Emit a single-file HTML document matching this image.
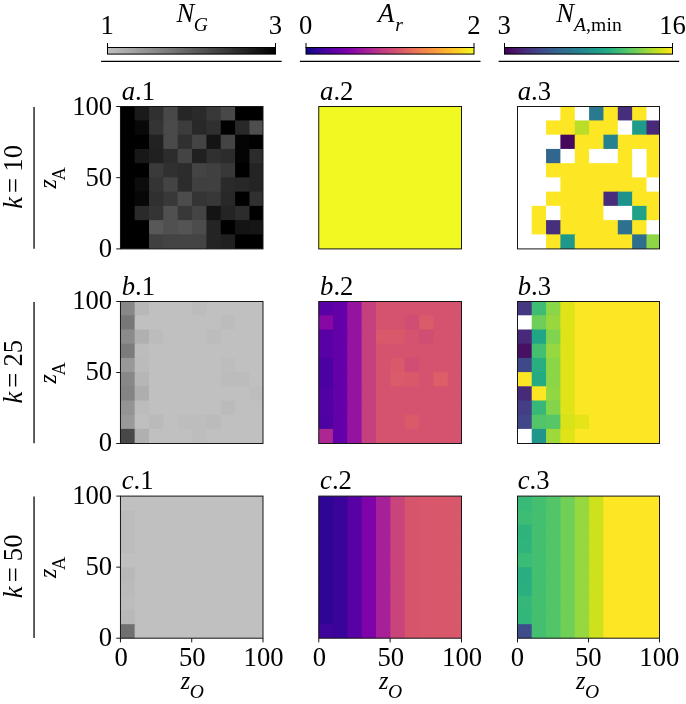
<!DOCTYPE html>
<html><head><meta charset="utf-8"><title>figure</title>
<style>
html,body{margin:0;padding:0;background:#fff;}
body{width:686px;height:704px;overflow:hidden;}
svg{display:block;will-change:transform;}
text{font-family:"Liberation Serif","Times New Roman",serif;fill:#000;}
.i{font-style:italic;}
</style></head><body>
<svg width="686" height="704" viewBox="0 0 686 704">
<defs>
<linearGradient id="gG" x1="0" x2="1" y1="0" y2="0"><stop offset="0" stop-color="#c0c0c0"/><stop offset="1" stop-color="#000000"/></linearGradient><linearGradient id="gP" x1="0" x2="1" y1="0" y2="0"><stop offset="0.00" stop-color="#0d0887"/><stop offset="0.05" stop-color="#2a0593"/><stop offset="0.10" stop-color="#41049d"/><stop offset="0.15" stop-color="#5601a4"/><stop offset="0.20" stop-color="#6a00a8"/><stop offset="0.25" stop-color="#7e03a8"/><stop offset="0.30" stop-color="#8f0da4"/><stop offset="0.35" stop-color="#a11b9b"/><stop offset="0.40" stop-color="#b12a90"/><stop offset="0.45" stop-color="#bf3984"/><stop offset="0.50" stop-color="#cc4778"/><stop offset="0.55" stop-color="#d6556d"/><stop offset="0.60" stop-color="#e16462"/><stop offset="0.65" stop-color="#ea7457"/><stop offset="0.70" stop-color="#f2844b"/><stop offset="0.75" stop-color="#f89540"/><stop offset="0.80" stop-color="#fca636"/><stop offset="0.85" stop-color="#feba2c"/><stop offset="0.90" stop-color="#fcce25"/><stop offset="0.95" stop-color="#f7e425"/><stop offset="1.00" stop-color="#f0f921"/></linearGradient><linearGradient id="gV" x1="0" x2="1" y1="0" y2="0"><stop offset="0.00" stop-color="#440154"/><stop offset="0.05" stop-color="#471365"/><stop offset="0.10" stop-color="#482475"/><stop offset="0.15" stop-color="#463480"/><stop offset="0.20" stop-color="#414487"/><stop offset="0.25" stop-color="#3b528b"/><stop offset="0.30" stop-color="#355f8d"/><stop offset="0.35" stop-color="#2f6c8e"/><stop offset="0.40" stop-color="#2a788e"/><stop offset="0.45" stop-color="#25848e"/><stop offset="0.50" stop-color="#21918c"/><stop offset="0.55" stop-color="#1e9c89"/><stop offset="0.60" stop-color="#22a884"/><stop offset="0.65" stop-color="#2fb47c"/><stop offset="0.70" stop-color="#44bf70"/><stop offset="0.75" stop-color="#5ec962"/><stop offset="0.80" stop-color="#7ad151"/><stop offset="0.85" stop-color="#9bd93c"/><stop offset="0.90" stop-color="#bddf26"/><stop offset="0.95" stop-color="#dfe318"/><stop offset="1.00" stop-color="#fde725"/></linearGradient></defs>
<rect x="107.50" y="47.5" width="168.00" height="6.6" fill="url(#gG)" stroke="#000" stroke-width="1"/><line x1="107.50" x2="107.50" y1="43" y2="48" stroke="#000" stroke-width="1"/><line x1="275.50" x2="275.50" y1="43" y2="48" stroke="#000" stroke-width="1"/><line x1="101.10" x2="281.70" y1="61.4" y2="61.4" stroke="#000" stroke-width="1.1"/>
<rect x="306.00" y="47.5" width="168.00" height="6.6" fill="url(#gP)" stroke="#000" stroke-width="1"/><line x1="306.00" x2="306.00" y1="43" y2="48" stroke="#000" stroke-width="1"/><line x1="474.00" x2="474.00" y1="43" y2="48" stroke="#000" stroke-width="1"/><line x1="299.90" x2="480.50" y1="61.4" y2="61.4" stroke="#000" stroke-width="1.1"/>
<rect x="504.50" y="47.5" width="168.00" height="6.6" fill="url(#gV)" stroke="#000" stroke-width="1"/><line x1="504.50" x2="504.50" y1="43" y2="48" stroke="#000" stroke-width="1"/><line x1="672.50" x2="672.50" y1="43" y2="48" stroke="#000" stroke-width="1"/><line x1="498.60" x2="679.20" y1="61.4" y2="61.4" stroke="#000" stroke-width="1.1"/>
<text x="107.20" y="33.7" font-size="26.67" text-anchor="middle">1</text><text x="275.50" y="33.7" font-size="26.67" text-anchor="middle">3</text><text x="305.70" y="33.7" font-size="26.67" text-anchor="middle">0</text><text x="474.00" y="33.7" font-size="26.67" text-anchor="middle">2</text><text x="504.20" y="33.7" font-size="26.67" text-anchor="middle">3</text><text x="672.50" y="33.7" font-size="26.67" text-anchor="middle">16</text><text x="176.5" y="22" font-size="26.67"><tspan class="i">N</tspan><tspan class="i" font-size="19.6" dx="-0.5" dy="8.9">G</tspan></text><text x="378" y="22" font-size="26.67"><tspan class="i">A</tspan><tspan class="i" font-size="19.6" dx="1" dy="8.7">r</tspan></text><text x="556.2" y="22" font-size="26.67"><tspan class="i">N</tspan><tspan class="i" font-size="19.6" dy="8.7">A</tspan><tspan font-size="19.6" letter-spacing="0.15">,min</tspan></text>
<g><rect x="120.45" y="106.50" width="15.20" height="14.94" fill="#000000"/><rect x="134.65" y="106.50" width="15.35" height="14.94" fill="#1a1a1a"/><rect x="149.00" y="106.50" width="15.35" height="14.94" fill="#303030"/><rect x="163.35" y="106.50" width="15.35" height="14.94" fill="#484848"/><rect x="177.70" y="106.50" width="15.35" height="14.94" fill="#262626"/><rect x="192.05" y="106.50" width="15.35" height="14.94" fill="#2a2a2a"/><rect x="206.40" y="106.50" width="15.35" height="14.94" fill="#383838"/><rect x="220.75" y="106.50" width="15.35" height="14.94" fill="#484848"/><rect x="235.10" y="106.50" width="27.90" height="14.94" fill="#000000"/><rect x="120.45" y="120.44" width="15.20" height="15.24" fill="#000000"/><rect x="134.65" y="120.44" width="15.35" height="15.24" fill="#080808"/><rect x="149.00" y="120.44" width="15.35" height="15.24" fill="#343434"/><rect x="163.35" y="120.44" width="15.35" height="15.24" fill="#4a4a4a"/><rect x="177.70" y="120.44" width="15.35" height="15.24" fill="#3c3c3c"/><rect x="192.05" y="120.44" width="15.35" height="15.24" fill="#282828"/><rect x="206.40" y="120.44" width="15.35" height="15.24" fill="#303030"/><rect x="220.75" y="120.44" width="15.35" height="15.24" fill="#000000"/><rect x="235.10" y="120.44" width="15.35" height="15.24" fill="#282828"/><rect x="249.45" y="120.44" width="13.55" height="15.24" fill="#4e4e4e"/><rect x="120.45" y="134.68" width="29.55" height="15.24" fill="#000000"/><rect x="149.00" y="134.68" width="15.35" height="15.24" fill="#222222"/><rect x="163.35" y="134.68" width="15.35" height="15.24" fill="#4a4a4a"/><rect x="177.70" y="134.68" width="15.35" height="15.24" fill="#303030"/><rect x="192.05" y="134.68" width="15.35" height="15.24" fill="#444444"/><rect x="206.40" y="134.68" width="15.35" height="15.24" fill="#141414"/><rect x="220.75" y="134.68" width="15.35" height="15.24" fill="#444444"/><rect x="235.10" y="134.68" width="15.35" height="15.24" fill="#040404"/><rect x="249.45" y="134.68" width="13.55" height="15.24" fill="#000000"/><rect x="120.45" y="148.92" width="15.20" height="15.24" fill="#000000"/><rect x="134.65" y="148.92" width="15.35" height="15.24" fill="#181818"/><rect x="149.00" y="148.92" width="15.35" height="15.24" fill="#202020"/><rect x="163.35" y="148.92" width="15.35" height="15.24" fill="#2c2c2c"/><rect x="177.70" y="148.92" width="15.35" height="15.24" fill="#444444"/><rect x="192.05" y="148.92" width="15.35" height="15.24" fill="#202020"/><rect x="206.40" y="148.92" width="15.35" height="15.24" fill="#303030"/><rect x="220.75" y="148.92" width="15.35" height="15.24" fill="#2c2c2c"/><rect x="235.10" y="148.92" width="15.35" height="15.24" fill="#040404"/><rect x="249.45" y="148.92" width="13.55" height="15.24" fill="#2c2c2c"/><rect x="120.45" y="163.16" width="29.55" height="15.24" fill="#000000"/><rect x="149.00" y="163.16" width="15.35" height="15.24" fill="#3a3a3a"/><rect x="163.35" y="163.16" width="15.35" height="15.24" fill="#303030"/><rect x="177.70" y="163.16" width="15.35" height="15.24" fill="#2c2c2c"/><rect x="192.05" y="163.16" width="15.35" height="15.24" fill="#444444"/><rect x="206.40" y="163.16" width="15.35" height="15.24" fill="#404040"/><rect x="220.75" y="163.16" width="15.35" height="15.24" fill="#383838"/><rect x="235.10" y="163.16" width="15.35" height="15.24" fill="#000000"/><rect x="249.45" y="163.16" width="13.55" height="15.24" fill="#242424"/><rect x="120.45" y="177.40" width="15.20" height="15.24" fill="#000000"/><rect x="134.65" y="177.40" width="15.35" height="15.24" fill="#0c0c0c"/><rect x="149.00" y="177.40" width="15.35" height="15.24" fill="#343434"/><rect x="163.35" y="177.40" width="15.35" height="15.24" fill="#444444"/><rect x="177.70" y="177.40" width="15.35" height="15.24" fill="#2c2c2c"/><rect x="192.05" y="177.40" width="29.70" height="15.24" fill="#404040"/><rect x="220.75" y="177.40" width="15.35" height="15.24" fill="#2a2a2a"/><rect x="235.10" y="177.40" width="15.35" height="15.24" fill="#282828"/><rect x="249.45" y="177.40" width="13.55" height="15.24" fill="#242424"/><rect x="120.45" y="191.64" width="15.20" height="15.24" fill="#000000"/><rect x="134.65" y="191.64" width="15.35" height="15.24" fill="#070707"/><rect x="149.00" y="191.64" width="15.35" height="15.24" fill="#303030"/><rect x="163.35" y="191.64" width="15.35" height="15.24" fill="#383838"/><rect x="177.70" y="191.64" width="15.35" height="15.24" fill="#4c4c4c"/><rect x="192.05" y="191.64" width="15.35" height="15.24" fill="#343434"/><rect x="206.40" y="191.64" width="15.35" height="15.24" fill="#383838"/><rect x="220.75" y="191.64" width="15.35" height="15.24" fill="#282828"/><rect x="235.10" y="191.64" width="15.35" height="15.24" fill="#000000"/><rect x="249.45" y="191.64" width="13.55" height="15.24" fill="#303030"/><rect x="120.45" y="205.88" width="15.20" height="15.24" fill="#000000"/><rect x="134.65" y="205.88" width="15.35" height="15.24" fill="#2a2a2a"/><rect x="149.00" y="205.88" width="15.35" height="15.24" fill="#343434"/><rect x="163.35" y="205.88" width="15.35" height="15.24" fill="#505050"/><rect x="177.70" y="205.88" width="15.35" height="15.24" fill="#383838"/><rect x="192.05" y="205.88" width="15.35" height="15.24" fill="#444444"/><rect x="206.40" y="205.88" width="15.35" height="15.24" fill="#141414"/><rect x="220.75" y="205.88" width="15.35" height="15.24" fill="#242424"/><rect x="235.10" y="205.88" width="15.35" height="15.24" fill="#2c2c2c"/><rect x="249.45" y="205.88" width="13.55" height="15.24" fill="#000000"/><rect x="120.45" y="220.12" width="29.55" height="15.24" fill="#000000"/><rect x="149.00" y="220.12" width="15.35" height="15.24" fill="#585858"/><rect x="163.35" y="220.12" width="15.35" height="15.24" fill="#505050"/><rect x="177.70" y="220.12" width="15.35" height="15.24" fill="#545454"/><rect x="192.05" y="220.12" width="15.35" height="15.24" fill="#4c4c4c"/><rect x="206.40" y="220.12" width="15.35" height="15.24" fill="#242424"/><rect x="220.75" y="220.12" width="15.35" height="15.24" fill="#000000"/><rect x="235.10" y="220.12" width="15.35" height="15.24" fill="#141414"/><rect x="249.45" y="220.12" width="13.55" height="15.24" fill="#161616"/><rect x="120.45" y="234.36" width="29.55" height="14.54" fill="#000000"/><rect x="149.00" y="234.36" width="15.35" height="14.54" fill="#404040"/><rect x="163.35" y="234.36" width="44.05" height="14.54" fill="#444444"/><rect x="206.40" y="234.36" width="15.35" height="14.54" fill="#242424"/><rect x="220.75" y="234.36" width="15.35" height="14.54" fill="#202020"/><rect x="235.10" y="234.36" width="27.90" height="14.54" fill="#000000"/><rect x="120.45" y="106.50" width="142.55" height="142.40" fill="none" stroke="#161616" stroke-width="1"/></g>
<text x="121.75" y="100.20" font-size="26.67"><tspan class="i">a</tspan>.1</text>
<line x1="116.25" x2="120.45" y1="106.50" y2="106.50" stroke="#161616" stroke-width="1"/><text x="112.15" y="114.50" font-size="26.67" text-anchor="end">100</text><line x1="116.25" x2="120.45" y1="177.70" y2="177.70" stroke="#161616" stroke-width="1"/><text x="112.15" y="185.70" font-size="26.67" text-anchor="end">50</text><line x1="116.25" x2="120.45" y1="248.90" y2="248.90" stroke="#161616" stroke-width="1"/><text x="112.15" y="256.90" font-size="26.67" text-anchor="end">0</text>
<g><rect x="318.75" y="106.50" width="142.75" height="14.94" fill="#f0f921"/><rect x="318.75" y="120.44" width="142.75" height="15.24" fill="#f0f921"/><rect x="318.75" y="134.68" width="142.75" height="15.24" fill="#f0f921"/><rect x="318.75" y="148.92" width="142.75" height="15.24" fill="#f0f921"/><rect x="318.75" y="163.16" width="142.75" height="15.24" fill="#f0f921"/><rect x="318.75" y="177.40" width="142.75" height="15.24" fill="#f0f921"/><rect x="318.75" y="191.64" width="142.75" height="15.24" fill="#f0f921"/><rect x="318.75" y="205.88" width="142.75" height="15.24" fill="#f0f921"/><rect x="318.75" y="220.12" width="142.75" height="15.24" fill="#f0f921"/><rect x="318.75" y="234.36" width="142.75" height="14.54" fill="#f0f921"/><rect x="318.75" y="106.50" width="142.75" height="142.40" fill="none" stroke="#161616" stroke-width="1"/></g>
<text x="320.05" y="100.20" font-size="26.67"><tspan class="i">a</tspan>.2</text>
<g><rect x="517.50" y="106.50" width="43.90" height="14.94" fill="#ffffff"/><rect x="560.40" y="106.50" width="15.35" height="14.94" fill="#fde725"/><rect x="574.75" y="106.50" width="15.35" height="14.94" fill="#ffffff"/><rect x="589.10" y="106.50" width="15.35" height="14.94" fill="#297a8e"/><rect x="603.45" y="106.50" width="15.35" height="14.94" fill="#fde725"/><rect x="617.80" y="106.50" width="15.35" height="14.94" fill="#472e7c"/><rect x="632.15" y="106.50" width="15.35" height="14.94" fill="#fde725"/><rect x="646.50" y="106.50" width="13.00" height="14.94" fill="#ffffff"/><rect x="517.50" y="120.44" width="29.55" height="15.24" fill="#ffffff"/><rect x="546.05" y="120.44" width="29.70" height="15.24" fill="#fde725"/><rect x="574.75" y="120.44" width="15.35" height="15.24" fill="#bade28"/><rect x="589.10" y="120.44" width="29.70" height="15.24" fill="#fde725"/><rect x="617.80" y="120.44" width="15.35" height="15.24" fill="#ffffff"/><rect x="632.15" y="120.44" width="15.35" height="15.24" fill="#1e9c89"/><rect x="646.50" y="120.44" width="13.00" height="15.24" fill="#482979"/><rect x="517.50" y="134.68" width="43.90" height="15.24" fill="#ffffff"/><rect x="560.40" y="134.68" width="15.35" height="15.24" fill="#46085c"/><rect x="574.75" y="134.68" width="29.70" height="15.24" fill="#fde725"/><rect x="603.45" y="134.68" width="15.35" height="15.24" fill="#26828e"/><rect x="617.80" y="134.68" width="41.70" height="15.24" fill="#fde725"/><rect x="517.50" y="148.92" width="29.55" height="15.24" fill="#ffffff"/><rect x="546.05" y="148.92" width="15.35" height="15.24" fill="#31678e"/><rect x="560.40" y="148.92" width="15.35" height="15.24" fill="#ffffff"/><rect x="574.75" y="148.92" width="15.35" height="15.24" fill="#fde725"/><rect x="589.10" y="148.92" width="29.70" height="15.24" fill="#ffffff"/><rect x="617.80" y="148.92" width="15.35" height="15.24" fill="#fde725"/><rect x="632.15" y="148.92" width="15.35" height="15.24" fill="#ffffff"/><rect x="646.50" y="148.92" width="13.00" height="15.24" fill="#fde725"/><rect x="517.50" y="163.16" width="29.55" height="15.24" fill="#ffffff"/><rect x="546.05" y="163.16" width="87.10" height="15.24" fill="#fde725"/><rect x="632.15" y="163.16" width="15.35" height="15.24" fill="#ffffff"/><rect x="646.50" y="163.16" width="13.00" height="15.24" fill="#fde725"/><rect x="517.50" y="177.40" width="43.90" height="15.24" fill="#ffffff"/><rect x="560.40" y="177.40" width="87.10" height="15.24" fill="#fde725"/><rect x="646.50" y="177.40" width="13.00" height="15.24" fill="#ffffff"/><rect x="517.50" y="191.64" width="29.55" height="15.24" fill="#ffffff"/><rect x="546.05" y="191.64" width="58.40" height="15.24" fill="#fde725"/><rect x="603.45" y="191.64" width="15.35" height="15.24" fill="#472d7b"/><rect x="617.80" y="191.64" width="15.35" height="15.24" fill="#20928c"/><rect x="632.15" y="191.64" width="27.35" height="15.24" fill="#fde725"/><rect x="517.50" y="205.88" width="15.20" height="15.24" fill="#ffffff"/><rect x="531.70" y="205.88" width="15.35" height="15.24" fill="#fde725"/><rect x="546.05" y="205.88" width="15.35" height="15.24" fill="#ffffff"/><rect x="560.40" y="205.88" width="44.05" height="15.24" fill="#fde725"/><rect x="603.45" y="205.88" width="29.70" height="15.24" fill="#ffffff"/><rect x="632.15" y="205.88" width="15.35" height="15.24" fill="#1fa287"/><rect x="646.50" y="205.88" width="13.00" height="15.24" fill="#fde725"/><rect x="517.50" y="220.12" width="15.20" height="15.24" fill="#ffffff"/><rect x="531.70" y="220.12" width="15.35" height="15.24" fill="#fde725"/><rect x="546.05" y="220.12" width="15.35" height="15.24" fill="#46307e"/><rect x="560.40" y="220.12" width="58.40" height="15.24" fill="#fde725"/><rect x="617.80" y="220.12" width="15.35" height="15.24" fill="#2d718e"/><rect x="632.15" y="220.12" width="15.35" height="15.24" fill="#fde725"/><rect x="646.50" y="220.12" width="13.00" height="15.24" fill="#ffffff"/><rect x="517.50" y="234.36" width="29.55" height="14.54" fill="#ffffff"/><rect x="546.05" y="234.36" width="15.35" height="14.54" fill="#fde725"/><rect x="560.40" y="234.36" width="15.35" height="14.54" fill="#1f978b"/><rect x="574.75" y="234.36" width="58.40" height="14.54" fill="#fde725"/><rect x="632.15" y="234.36" width="15.35" height="14.54" fill="#2e6f8e"/><rect x="646.50" y="234.36" width="13.00" height="14.54" fill="#8ed645"/><rect x="517.50" y="106.50" width="142.00" height="142.40" fill="none" stroke="#161616" stroke-width="1"/></g>
<text x="517.70" y="100.20" font-size="26.67"><tspan class="i">a</tspan>.3</text>
<line x1="34.05" x2="34.05" y1="106.90" y2="248.70" stroke="#2a2a2a" stroke-width="1.5"/><text transform="translate(22,208.70) rotate(-90)" font-size="26.67"><tspan class="i">k</tspan><tspan dx="-2.7"> =</tspan><tspan dx="-0.5"> 10</tspan></text><text transform="translate(56.4,188.60) rotate(-90)" font-size="26.67"><tspan class="i" font-size="24.2">z</tspan><tspan font-size="18.4" dx="-1.4" dy="8.3">A</tspan></text>
<g><rect x="120.45" y="301.50" width="15.20" height="14.80" fill="#888888"/><rect x="134.65" y="301.50" width="15.35" height="14.80" fill="#b8b8b8"/><rect x="149.00" y="301.50" width="44.05" height="14.80" fill="#c0c0c0"/><rect x="192.05" y="301.50" width="15.35" height="14.80" fill="#bcbcbc"/><rect x="206.40" y="301.50" width="56.60" height="14.80" fill="#c0c0c0"/><rect x="120.45" y="315.30" width="15.20" height="15.20" fill="#787878"/><rect x="134.65" y="315.30" width="87.10" height="15.20" fill="#c0c0c0"/><rect x="220.75" y="315.30" width="15.35" height="15.20" fill="#bcbcbc"/><rect x="235.10" y="315.30" width="27.90" height="15.20" fill="#c0c0c0"/><rect x="120.45" y="329.50" width="15.20" height="15.20" fill="#8b8b8b"/><rect x="134.65" y="329.50" width="15.35" height="15.20" fill="#b0b0b0"/><rect x="149.00" y="329.50" width="15.35" height="15.20" fill="#bcbcbc"/><rect x="163.35" y="329.50" width="44.05" height="15.20" fill="#c0c0c0"/><rect x="206.40" y="329.50" width="15.35" height="15.20" fill="#bcbcbc"/><rect x="220.75" y="329.50" width="42.25" height="15.20" fill="#c0c0c0"/><rect x="120.45" y="343.70" width="15.20" height="15.20" fill="#7c7c7c"/><rect x="134.65" y="343.70" width="15.35" height="15.20" fill="#bcbcbc"/><rect x="149.00" y="343.70" width="114.00" height="15.20" fill="#c0c0c0"/><rect x="120.45" y="357.90" width="15.20" height="15.20" fill="#989898"/><rect x="134.65" y="357.90" width="15.35" height="15.20" fill="#bbbbbb"/><rect x="149.00" y="357.90" width="72.75" height="15.20" fill="#c0c0c0"/><rect x="220.75" y="357.90" width="15.35" height="15.20" fill="#bdbdbd"/><rect x="235.10" y="357.90" width="27.90" height="15.20" fill="#c0c0c0"/><rect x="120.45" y="372.10" width="15.20" height="15.20" fill="#888888"/><rect x="134.65" y="372.10" width="15.35" height="15.20" fill="#b6b6b6"/><rect x="149.00" y="372.10" width="72.75" height="15.20" fill="#c0c0c0"/><rect x="220.75" y="372.10" width="29.70" height="15.20" fill="#bcbcbc"/><rect x="249.45" y="372.10" width="13.55" height="15.20" fill="#c0c0c0"/><rect x="120.45" y="386.30" width="15.20" height="15.20" fill="#848484"/><rect x="134.65" y="386.30" width="15.35" height="15.20" fill="#aeaeae"/><rect x="149.00" y="386.30" width="101.45" height="15.20" fill="#c0c0c0"/><rect x="249.45" y="386.30" width="13.55" height="15.20" fill="#bdbdbd"/><rect x="120.45" y="400.50" width="15.20" height="15.20" fill="#949494"/><rect x="134.65" y="400.50" width="15.35" height="15.20" fill="#bcbcbc"/><rect x="149.00" y="400.50" width="72.75" height="15.20" fill="#c0c0c0"/><rect x="220.75" y="400.50" width="15.35" height="15.20" fill="#bbbbbb"/><rect x="235.10" y="400.50" width="27.90" height="15.20" fill="#c0c0c0"/><rect x="120.45" y="414.70" width="15.20" height="15.20" fill="#9a9a9a"/><rect x="134.65" y="414.70" width="15.35" height="15.20" fill="#bfbfbf"/><rect x="149.00" y="414.70" width="15.35" height="15.20" fill="#bababa"/><rect x="163.35" y="414.70" width="15.35" height="15.20" fill="#c0c0c0"/><rect x="177.70" y="414.70" width="29.70" height="15.20" fill="#bdbdbd"/><rect x="206.40" y="414.70" width="15.35" height="15.20" fill="#bbbbbb"/><rect x="220.75" y="414.70" width="42.25" height="15.20" fill="#c0c0c0"/><rect x="120.45" y="428.90" width="15.20" height="14.60" fill="#484848"/><rect x="134.65" y="428.90" width="15.35" height="14.60" fill="#b0b0b0"/><rect x="149.00" y="428.90" width="44.05" height="14.60" fill="#c0c0c0"/><rect x="192.05" y="428.90" width="15.35" height="14.60" fill="#bdbdbd"/><rect x="206.40" y="428.90" width="56.60" height="14.60" fill="#c0c0c0"/><rect x="120.45" y="301.50" width="142.55" height="142.00" fill="none" stroke="#161616" stroke-width="1"/></g>
<text x="121.75" y="294.50" font-size="26.67"><tspan class="i">b</tspan>.1</text>
<line x1="116.25" x2="120.45" y1="301.50" y2="301.50" stroke="#161616" stroke-width="1"/><text x="112.15" y="309.25" font-size="26.67" text-anchor="end">100</text><line x1="116.25" x2="120.45" y1="372.50" y2="372.50" stroke="#161616" stroke-width="1"/><text x="112.15" y="380.25" font-size="26.67" text-anchor="end">50</text><line x1="116.25" x2="120.45" y1="443.50" y2="443.50" stroke="#161616" stroke-width="1"/><text x="112.15" y="451.25" font-size="26.67" text-anchor="end">0</text>
<g><rect x="318.75" y="301.50" width="15.20" height="14.80" fill="#5801a4"/><rect x="332.95" y="301.50" width="15.35" height="14.80" fill="#6400a7"/><rect x="347.30" y="301.50" width="15.35" height="14.80" fill="#9613a1"/><rect x="361.65" y="301.50" width="15.35" height="14.80" fill="#c5407e"/><rect x="376.00" y="301.50" width="85.50" height="14.80" fill="#d5536f"/><rect x="318.75" y="315.30" width="15.20" height="15.20" fill="#8808a6"/><rect x="332.95" y="315.30" width="15.35" height="15.20" fill="#6400a7"/><rect x="347.30" y="315.30" width="15.35" height="15.20" fill="#9613a1"/><rect x="361.65" y="315.30" width="15.35" height="15.20" fill="#c5407e"/><rect x="376.00" y="315.30" width="29.70" height="15.20" fill="#d5536f"/><rect x="404.70" y="315.30" width="15.35" height="15.20" fill="#d04d73"/><rect x="419.05" y="315.30" width="15.35" height="15.20" fill="#da5b69"/><rect x="433.40" y="315.30" width="28.10" height="15.20" fill="#d5536f"/><rect x="318.75" y="329.50" width="15.20" height="15.20" fill="#5801a4"/><rect x="332.95" y="329.50" width="15.35" height="15.20" fill="#6400a7"/><rect x="347.30" y="329.50" width="15.35" height="15.20" fill="#9613a1"/><rect x="361.65" y="329.50" width="15.35" height="15.20" fill="#c5407e"/><rect x="376.00" y="329.50" width="29.70" height="15.20" fill="#d9586a"/><rect x="404.70" y="329.50" width="15.35" height="15.20" fill="#d5536f"/><rect x="419.05" y="329.50" width="15.35" height="15.20" fill="#d04d73"/><rect x="433.40" y="329.50" width="28.10" height="15.20" fill="#d5536f"/><rect x="318.75" y="343.70" width="15.20" height="15.20" fill="#5801a4"/><rect x="332.95" y="343.70" width="15.35" height="15.20" fill="#6400a7"/><rect x="347.30" y="343.70" width="15.35" height="15.20" fill="#9613a1"/><rect x="361.65" y="343.70" width="15.35" height="15.20" fill="#c5407e"/><rect x="376.00" y="343.70" width="85.50" height="15.20" fill="#d5536f"/><rect x="318.75" y="357.90" width="15.20" height="15.20" fill="#4c02a1"/><rect x="332.95" y="357.90" width="15.35" height="15.20" fill="#6400a7"/><rect x="347.30" y="357.90" width="15.35" height="15.20" fill="#9613a1"/><rect x="361.65" y="357.90" width="15.35" height="15.20" fill="#c5407e"/><rect x="376.00" y="357.90" width="15.35" height="15.20" fill="#d5536f"/><rect x="390.35" y="357.90" width="15.35" height="15.20" fill="#d9586a"/><rect x="404.70" y="357.90" width="15.35" height="15.20" fill="#d04d73"/><rect x="419.05" y="357.90" width="42.45" height="15.20" fill="#d5536f"/><rect x="318.75" y="372.10" width="15.20" height="15.20" fill="#4c02a1"/><rect x="332.95" y="372.10" width="15.35" height="15.20" fill="#6400a7"/><rect x="347.30" y="372.10" width="15.35" height="15.20" fill="#9613a1"/><rect x="361.65" y="372.10" width="15.35" height="15.20" fill="#c5407e"/><rect x="376.00" y="372.10" width="15.35" height="15.20" fill="#d5536f"/><rect x="390.35" y="372.10" width="15.35" height="15.20" fill="#da5b69"/><rect x="404.70" y="372.10" width="15.35" height="15.20" fill="#d9586a"/><rect x="419.05" y="372.10" width="15.35" height="15.20" fill="#d5536f"/><rect x="433.40" y="372.10" width="15.35" height="15.20" fill="#dd5e66"/><rect x="447.75" y="372.10" width="13.75" height="15.20" fill="#d5536f"/><rect x="318.75" y="386.30" width="15.20" height="15.20" fill="#5102a3"/><rect x="332.95" y="386.30" width="15.35" height="15.20" fill="#6400a7"/><rect x="347.30" y="386.30" width="15.35" height="15.20" fill="#9613a1"/><rect x="361.65" y="386.30" width="15.35" height="15.20" fill="#c5407e"/><rect x="376.00" y="386.30" width="85.50" height="15.20" fill="#d5536f"/><rect x="318.75" y="400.50" width="15.20" height="15.20" fill="#5102a3"/><rect x="332.95" y="400.50" width="15.35" height="15.20" fill="#6400a7"/><rect x="347.30" y="400.50" width="15.35" height="15.20" fill="#9613a1"/><rect x="361.65" y="400.50" width="15.35" height="15.20" fill="#c5407e"/><rect x="376.00" y="400.50" width="85.50" height="15.20" fill="#d5536f"/><rect x="318.75" y="414.70" width="15.20" height="15.20" fill="#4e02a2"/><rect x="332.95" y="414.70" width="15.35" height="15.20" fill="#6400a7"/><rect x="347.30" y="414.70" width="15.35" height="15.20" fill="#9613a1"/><rect x="361.65" y="414.70" width="15.35" height="15.20" fill="#c5407e"/><rect x="376.00" y="414.70" width="29.70" height="15.20" fill="#d5536f"/><rect x="404.70" y="414.70" width="15.35" height="15.20" fill="#da5a6a"/><rect x="419.05" y="414.70" width="42.45" height="15.20" fill="#d5536f"/><rect x="318.75" y="428.90" width="15.20" height="14.60" fill="#ad2793"/><rect x="332.95" y="428.90" width="15.35" height="14.60" fill="#6400a7"/><rect x="347.30" y="428.90" width="15.35" height="14.60" fill="#9613a1"/><rect x="361.65" y="428.90" width="15.35" height="14.60" fill="#c5407e"/><rect x="376.00" y="428.90" width="85.50" height="14.60" fill="#d5536f"/><rect x="318.75" y="301.50" width="142.75" height="142.00" fill="none" stroke="#161616" stroke-width="1"/></g>
<text x="320.05" y="294.50" font-size="26.67"><tspan class="i">b</tspan>.2</text>
<g><rect x="517.50" y="301.50" width="15.20" height="14.80" fill="#453781"/><rect x="531.70" y="301.50" width="15.35" height="14.80" fill="#3fbc73"/><rect x="546.05" y="301.50" width="15.35" height="14.80" fill="#8bd646"/><rect x="560.40" y="301.50" width="15.35" height="14.80" fill="#dfe318"/><rect x="574.75" y="301.50" width="15.35" height="14.80" fill="#fbe723"/><rect x="589.10" y="301.50" width="70.40" height="14.80" fill="#fde725"/><rect x="517.50" y="315.30" width="15.20" height="15.20" fill="#ffffff"/><rect x="531.70" y="315.30" width="15.35" height="15.20" fill="#6ece58"/><rect x="546.05" y="315.30" width="15.35" height="15.20" fill="#98d83e"/><rect x="560.40" y="315.30" width="15.35" height="15.20" fill="#dfe318"/><rect x="574.75" y="315.30" width="15.35" height="15.20" fill="#fbe723"/><rect x="589.10" y="315.30" width="70.40" height="15.20" fill="#fde725"/><rect x="517.50" y="329.50" width="15.20" height="15.20" fill="#482878"/><rect x="531.70" y="329.50" width="15.35" height="15.20" fill="#21a685"/><rect x="546.05" y="329.50" width="15.35" height="15.20" fill="#7fd34e"/><rect x="560.40" y="329.50" width="15.35" height="15.20" fill="#dfe318"/><rect x="574.75" y="329.50" width="15.35" height="15.20" fill="#fbe723"/><rect x="589.10" y="329.50" width="70.40" height="15.20" fill="#fde725"/><rect x="517.50" y="343.70" width="15.20" height="15.20" fill="#471063"/><rect x="531.70" y="343.70" width="15.35" height="15.20" fill="#44bf70"/><rect x="546.05" y="343.70" width="15.35" height="15.20" fill="#95d840"/><rect x="560.40" y="343.70" width="15.35" height="15.20" fill="#dfe318"/><rect x="574.75" y="343.70" width="15.35" height="15.20" fill="#fbe723"/><rect x="589.10" y="343.70" width="70.40" height="15.20" fill="#fde725"/><rect x="517.50" y="357.90" width="15.20" height="15.20" fill="#3e4989"/><rect x="531.70" y="357.90" width="15.35" height="15.20" fill="#29af7f"/><rect x="546.05" y="357.90" width="15.35" height="15.20" fill="#8bd646"/><rect x="560.40" y="357.90" width="15.35" height="15.20" fill="#dfe318"/><rect x="574.75" y="357.90" width="15.35" height="15.20" fill="#fbe723"/><rect x="589.10" y="357.90" width="70.40" height="15.20" fill="#fde725"/><rect x="517.50" y="372.10" width="15.20" height="15.20" fill="#fde725"/><rect x="531.70" y="372.10" width="15.35" height="15.20" fill="#25ab82"/><rect x="546.05" y="372.10" width="15.35" height="15.20" fill="#8bd646"/><rect x="560.40" y="372.10" width="15.35" height="15.20" fill="#dfe318"/><rect x="574.75" y="372.10" width="15.35" height="15.20" fill="#fbe723"/><rect x="589.10" y="372.10" width="70.40" height="15.20" fill="#fde725"/><rect x="517.50" y="386.30" width="15.20" height="15.20" fill="#472a7a"/><rect x="531.70" y="386.30" width="15.35" height="15.20" fill="#fde725"/><rect x="546.05" y="386.30" width="15.35" height="15.20" fill="#90d743"/><rect x="560.40" y="386.30" width="15.35" height="15.20" fill="#dfe318"/><rect x="574.75" y="386.30" width="15.35" height="15.20" fill="#fbe723"/><rect x="589.10" y="386.30" width="70.40" height="15.20" fill="#fde725"/><rect x="517.50" y="400.50" width="15.20" height="15.20" fill="#433e85"/><rect x="531.70" y="400.50" width="15.35" height="15.20" fill="#37b878"/><rect x="546.05" y="400.50" width="15.35" height="15.20" fill="#84d44b"/><rect x="560.40" y="400.50" width="15.35" height="15.20" fill="#dfe318"/><rect x="574.75" y="400.50" width="15.35" height="15.20" fill="#fbe723"/><rect x="589.10" y="400.50" width="70.40" height="15.20" fill="#fde725"/><rect x="517.50" y="414.70" width="15.20" height="15.20" fill="#404688"/><rect x="531.70" y="414.70" width="15.35" height="15.20" fill="#52c569"/><rect x="546.05" y="414.70" width="15.35" height="15.20" fill="#56c667"/><rect x="560.40" y="414.70" width="15.35" height="15.20" fill="#d8e219"/><rect x="574.75" y="414.70" width="15.35" height="15.20" fill="#e5e419"/><rect x="589.10" y="414.70" width="70.40" height="15.20" fill="#fde725"/><rect x="517.50" y="428.90" width="15.20" height="14.60" fill="#ffffff"/><rect x="531.70" y="428.90" width="15.35" height="14.60" fill="#1f958b"/><rect x="546.05" y="428.90" width="15.35" height="14.60" fill="#9dd93b"/><rect x="560.40" y="428.90" width="15.35" height="14.60" fill="#dfe318"/><rect x="574.75" y="428.90" width="15.35" height="14.60" fill="#fbe723"/><rect x="589.10" y="428.90" width="70.40" height="14.60" fill="#fde725"/><rect x="517.50" y="301.50" width="142.00" height="142.00" fill="none" stroke="#161616" stroke-width="1"/></g>
<text x="517.70" y="294.50" font-size="26.67"><tspan class="i">b</tspan>.3</text>
<line x1="34.05" x2="34.05" y1="301.90" y2="443.30" stroke="#2a2a2a" stroke-width="1.5"/><text transform="translate(22,403.50) rotate(-90)" font-size="26.67"><tspan class="i">k</tspan><tspan dx="-2.7"> =</tspan><tspan dx="-0.5"> 25</tspan></text><text transform="translate(56.4,383.40) rotate(-90)" font-size="26.67"><tspan class="i" font-size="24.2">z</tspan><tspan font-size="18.4" dx="-1.4" dy="8.3">A</tspan></text>
<g><rect x="120.45" y="496.10" width="142.55" height="15.41" fill="#c0c0c0"/><rect x="120.45" y="510.51" width="15.20" height="15.21" fill="#bcbcbc"/><rect x="134.65" y="510.51" width="128.35" height="15.21" fill="#c0c0c0"/><rect x="120.45" y="524.72" width="15.20" height="15.21" fill="#bcbcbc"/><rect x="134.65" y="524.72" width="128.35" height="15.21" fill="#c0c0c0"/><rect x="120.45" y="538.93" width="15.20" height="15.21" fill="#bcbcbc"/><rect x="134.65" y="538.93" width="128.35" height="15.21" fill="#c0c0c0"/><rect x="120.45" y="553.14" width="142.55" height="15.21" fill="#c0c0c0"/><rect x="120.45" y="567.35" width="15.20" height="15.21" fill="#b8b8b8"/><rect x="134.65" y="567.35" width="128.35" height="15.21" fill="#c0c0c0"/><rect x="120.45" y="581.56" width="15.20" height="15.21" fill="#bababa"/><rect x="134.65" y="581.56" width="128.35" height="15.21" fill="#c0c0c0"/><rect x="120.45" y="595.77" width="15.20" height="15.21" fill="#bcbcbc"/><rect x="134.65" y="595.77" width="128.35" height="15.21" fill="#c0c0c0"/><rect x="120.45" y="609.98" width="15.20" height="15.21" fill="#b8b8b8"/><rect x="134.65" y="609.98" width="128.35" height="15.21" fill="#c0c0c0"/><rect x="120.45" y="624.19" width="15.20" height="14.01" fill="#707070"/><rect x="134.65" y="624.19" width="128.35" height="14.01" fill="#c0c0c0"/><rect x="120.45" y="496.10" width="142.55" height="142.10" fill="none" stroke="#161616" stroke-width="1"/></g>
<text x="121.75" y="488.95" font-size="26.67"><tspan class="i">c</tspan>.1</text>
<line x1="116.25" x2="120.45" y1="496.10" y2="496.10" stroke="#161616" stroke-width="1"/><text x="112.15" y="504.10" font-size="26.67" text-anchor="end">100</text><line x1="116.25" x2="120.45" y1="567.15" y2="567.15" stroke="#161616" stroke-width="1"/><text x="112.15" y="575.15" font-size="26.67" text-anchor="end">50</text><line x1="116.25" x2="120.45" y1="638.20" y2="638.20" stroke="#161616" stroke-width="1"/><text x="112.15" y="646.20" font-size="26.67" text-anchor="end">0</text>
<line x1="120.45" x2="120.45" y1="638.20" y2="642.40" stroke="#161616" stroke-width="1"/><text x="121.05" y="666.2" font-size="26.67" text-anchor="middle">0</text><line x1="191.73" x2="191.73" y1="638.20" y2="642.40" stroke="#161616" stroke-width="1"/><text x="192.33" y="666.2" font-size="26.67" text-anchor="middle">50</text><line x1="263.00" x2="263.00" y1="638.20" y2="642.40" stroke="#161616" stroke-width="1"/><text x="263.60" y="666.2" font-size="26.67" text-anchor="middle">100</text><text x="180.75" y="689" font-size="26.67"><tspan class="i" font-size="24.2">z</tspan><tspan class="i" font-size="19.6" dx="-0.4" dy="9.1">O</tspan></text>
<g><rect x="318.75" y="496.10" width="15.20" height="15.41" fill="#2e0595"/><rect x="332.95" y="496.10" width="15.35" height="15.41" fill="#3a049a"/><rect x="347.30" y="496.10" width="15.35" height="15.41" fill="#5801a4"/><rect x="361.65" y="496.10" width="15.35" height="15.41" fill="#7e03a8"/><rect x="376.00" y="496.10" width="15.35" height="15.41" fill="#a62098"/><rect x="390.35" y="496.10" width="15.35" height="15.41" fill="#c9447a"/><rect x="404.70" y="496.10" width="15.35" height="15.41" fill="#d6556d"/><rect x="419.05" y="496.10" width="42.45" height="15.41" fill="#d8576b"/><rect x="318.75" y="510.51" width="15.20" height="15.21" fill="#2e0595"/><rect x="332.95" y="510.51" width="15.35" height="15.21" fill="#3a049a"/><rect x="347.30" y="510.51" width="15.35" height="15.21" fill="#5801a4"/><rect x="361.65" y="510.51" width="15.35" height="15.21" fill="#7e03a8"/><rect x="376.00" y="510.51" width="15.35" height="15.21" fill="#a62098"/><rect x="390.35" y="510.51" width="15.35" height="15.21" fill="#c9447a"/><rect x="404.70" y="510.51" width="15.35" height="15.21" fill="#d6556d"/><rect x="419.05" y="510.51" width="42.45" height="15.21" fill="#d8576b"/><rect x="318.75" y="524.72" width="15.20" height="15.21" fill="#2e0595"/><rect x="332.95" y="524.72" width="15.35" height="15.21" fill="#3a049a"/><rect x="347.30" y="524.72" width="15.35" height="15.21" fill="#5801a4"/><rect x="361.65" y="524.72" width="15.35" height="15.21" fill="#7e03a8"/><rect x="376.00" y="524.72" width="15.35" height="15.21" fill="#a62098"/><rect x="390.35" y="524.72" width="15.35" height="15.21" fill="#c9447a"/><rect x="404.70" y="524.72" width="15.35" height="15.21" fill="#d6556d"/><rect x="419.05" y="524.72" width="42.45" height="15.21" fill="#d8576b"/><rect x="318.75" y="538.93" width="15.20" height="15.21" fill="#2e0595"/><rect x="332.95" y="538.93" width="15.35" height="15.21" fill="#3a049a"/><rect x="347.30" y="538.93" width="15.35" height="15.21" fill="#5801a4"/><rect x="361.65" y="538.93" width="15.35" height="15.21" fill="#7e03a8"/><rect x="376.00" y="538.93" width="15.35" height="15.21" fill="#a62098"/><rect x="390.35" y="538.93" width="15.35" height="15.21" fill="#c9447a"/><rect x="404.70" y="538.93" width="15.35" height="15.21" fill="#d6556d"/><rect x="419.05" y="538.93" width="42.45" height="15.21" fill="#d8576b"/><rect x="318.75" y="553.14" width="15.20" height="15.21" fill="#2e0595"/><rect x="332.95" y="553.14" width="15.35" height="15.21" fill="#3a049a"/><rect x="347.30" y="553.14" width="15.35" height="15.21" fill="#5801a4"/><rect x="361.65" y="553.14" width="15.35" height="15.21" fill="#7e03a8"/><rect x="376.00" y="553.14" width="15.35" height="15.21" fill="#a62098"/><rect x="390.35" y="553.14" width="15.35" height="15.21" fill="#c9447a"/><rect x="404.70" y="553.14" width="15.35" height="15.21" fill="#d6556d"/><rect x="419.05" y="553.14" width="42.45" height="15.21" fill="#d8576b"/><rect x="318.75" y="567.35" width="15.20" height="15.21" fill="#2e0595"/><rect x="332.95" y="567.35" width="15.35" height="15.21" fill="#3a049a"/><rect x="347.30" y="567.35" width="15.35" height="15.21" fill="#5801a4"/><rect x="361.65" y="567.35" width="15.35" height="15.21" fill="#7e03a8"/><rect x="376.00" y="567.35" width="15.35" height="15.21" fill="#a62098"/><rect x="390.35" y="567.35" width="15.35" height="15.21" fill="#c9447a"/><rect x="404.70" y="567.35" width="15.35" height="15.21" fill="#d6556d"/><rect x="419.05" y="567.35" width="42.45" height="15.21" fill="#d8576b"/><rect x="318.75" y="581.56" width="15.20" height="15.21" fill="#2e0595"/><rect x="332.95" y="581.56" width="15.35" height="15.21" fill="#3a049a"/><rect x="347.30" y="581.56" width="15.35" height="15.21" fill="#5801a4"/><rect x="361.65" y="581.56" width="15.35" height="15.21" fill="#7e03a8"/><rect x="376.00" y="581.56" width="15.35" height="15.21" fill="#a62098"/><rect x="390.35" y="581.56" width="15.35" height="15.21" fill="#c9447a"/><rect x="404.70" y="581.56" width="15.35" height="15.21" fill="#d6556d"/><rect x="419.05" y="581.56" width="42.45" height="15.21" fill="#d8576b"/><rect x="318.75" y="595.77" width="15.20" height="15.21" fill="#2e0595"/><rect x="332.95" y="595.77" width="15.35" height="15.21" fill="#3a049a"/><rect x="347.30" y="595.77" width="15.35" height="15.21" fill="#5801a4"/><rect x="361.65" y="595.77" width="15.35" height="15.21" fill="#7e03a8"/><rect x="376.00" y="595.77" width="15.35" height="15.21" fill="#a62098"/><rect x="390.35" y="595.77" width="15.35" height="15.21" fill="#c9447a"/><rect x="404.70" y="595.77" width="15.35" height="15.21" fill="#d6556d"/><rect x="419.05" y="595.77" width="42.45" height="15.21" fill="#d8576b"/><rect x="318.75" y="609.98" width="15.20" height="15.21" fill="#2e0595"/><rect x="332.95" y="609.98" width="15.35" height="15.21" fill="#3a049a"/><rect x="347.30" y="609.98" width="15.35" height="15.21" fill="#5801a4"/><rect x="361.65" y="609.98" width="15.35" height="15.21" fill="#7e03a8"/><rect x="376.00" y="609.98" width="15.35" height="15.21" fill="#a62098"/><rect x="390.35" y="609.98" width="15.35" height="15.21" fill="#c9447a"/><rect x="404.70" y="609.98" width="15.35" height="15.21" fill="#d6556d"/><rect x="419.05" y="609.98" width="42.45" height="15.21" fill="#d8576b"/><rect x="318.75" y="624.19" width="15.20" height="14.01" fill="#3f049c"/><rect x="332.95" y="624.19" width="15.35" height="14.01" fill="#3a049a"/><rect x="347.30" y="624.19" width="15.35" height="14.01" fill="#5801a4"/><rect x="361.65" y="624.19" width="15.35" height="14.01" fill="#7e03a8"/><rect x="376.00" y="624.19" width="15.35" height="14.01" fill="#a62098"/><rect x="390.35" y="624.19" width="15.35" height="14.01" fill="#c9447a"/><rect x="404.70" y="624.19" width="15.35" height="14.01" fill="#d6556d"/><rect x="419.05" y="624.19" width="42.45" height="14.01" fill="#d8576b"/><rect x="318.75" y="496.10" width="142.75" height="142.10" fill="none" stroke="#161616" stroke-width="1"/></g>
<text x="320.05" y="488.95" font-size="26.67"><tspan class="i">c</tspan>.2</text>
<line x1="318.75" x2="318.75" y1="638.20" y2="642.40" stroke="#161616" stroke-width="1"/><text x="319.35" y="666.2" font-size="26.67" text-anchor="middle">0</text><line x1="390.12" x2="390.12" y1="638.20" y2="642.40" stroke="#161616" stroke-width="1"/><text x="390.73" y="666.2" font-size="26.67" text-anchor="middle">50</text><line x1="461.50" x2="461.50" y1="638.20" y2="642.40" stroke="#161616" stroke-width="1"/><text x="462.10" y="666.2" font-size="26.67" text-anchor="middle">100</text><text x="379.05" y="689" font-size="26.67"><tspan class="i" font-size="24.2">z</tspan><tspan class="i" font-size="19.6" dx="-0.4" dy="9.1">O</tspan></text>
<g><rect x="517.50" y="496.10" width="15.20" height="15.41" fill="#38b977"/><rect x="531.70" y="496.10" width="15.35" height="15.41" fill="#44bf70"/><rect x="546.05" y="496.10" width="15.35" height="15.41" fill="#52c569"/><rect x="560.40" y="496.10" width="15.35" height="15.41" fill="#70cf57"/><rect x="574.75" y="496.10" width="15.35" height="15.41" fill="#95d840"/><rect x="589.10" y="496.10" width="15.35" height="15.41" fill="#cde11d"/><rect x="603.45" y="496.10" width="56.05" height="15.41" fill="#fde725"/><rect x="517.50" y="510.51" width="15.20" height="15.21" fill="#3dbc74"/><rect x="531.70" y="510.51" width="15.35" height="15.21" fill="#44bf70"/><rect x="546.05" y="510.51" width="15.35" height="15.21" fill="#52c569"/><rect x="560.40" y="510.51" width="15.35" height="15.21" fill="#70cf57"/><rect x="574.75" y="510.51" width="15.35" height="15.21" fill="#95d840"/><rect x="589.10" y="510.51" width="15.35" height="15.21" fill="#cde11d"/><rect x="603.45" y="510.51" width="56.05" height="15.21" fill="#fde725"/><rect x="517.50" y="524.72" width="15.20" height="15.21" fill="#2eb37c"/><rect x="531.70" y="524.72" width="15.35" height="15.21" fill="#44bf70"/><rect x="546.05" y="524.72" width="15.35" height="15.21" fill="#52c569"/><rect x="560.40" y="524.72" width="15.35" height="15.21" fill="#70cf57"/><rect x="574.75" y="524.72" width="15.35" height="15.21" fill="#95d840"/><rect x="589.10" y="524.72" width="15.35" height="15.21" fill="#cde11d"/><rect x="603.45" y="524.72" width="56.05" height="15.21" fill="#fde725"/><rect x="517.50" y="538.93" width="15.20" height="15.21" fill="#2fb47c"/><rect x="531.70" y="538.93" width="15.35" height="15.21" fill="#44bf70"/><rect x="546.05" y="538.93" width="15.35" height="15.21" fill="#52c569"/><rect x="560.40" y="538.93" width="15.35" height="15.21" fill="#70cf57"/><rect x="574.75" y="538.93" width="15.35" height="15.21" fill="#95d840"/><rect x="589.10" y="538.93" width="15.35" height="15.21" fill="#cde11d"/><rect x="603.45" y="538.93" width="56.05" height="15.21" fill="#fde725"/><rect x="517.50" y="553.14" width="15.20" height="15.21" fill="#3bbb75"/><rect x="531.70" y="553.14" width="15.35" height="15.21" fill="#44bf70"/><rect x="546.05" y="553.14" width="15.35" height="15.21" fill="#52c569"/><rect x="560.40" y="553.14" width="15.35" height="15.21" fill="#70cf57"/><rect x="574.75" y="553.14" width="15.35" height="15.21" fill="#95d840"/><rect x="589.10" y="553.14" width="15.35" height="15.21" fill="#cde11d"/><rect x="603.45" y="553.14" width="56.05" height="15.21" fill="#fde725"/><rect x="517.50" y="567.35" width="15.20" height="15.21" fill="#28ae80"/><rect x="531.70" y="567.35" width="15.35" height="15.21" fill="#44bf70"/><rect x="546.05" y="567.35" width="15.35" height="15.21" fill="#52c569"/><rect x="560.40" y="567.35" width="15.35" height="15.21" fill="#70cf57"/><rect x="574.75" y="567.35" width="15.35" height="15.21" fill="#95d840"/><rect x="589.10" y="567.35" width="15.35" height="15.21" fill="#cde11d"/><rect x="603.45" y="567.35" width="56.05" height="15.21" fill="#fde725"/><rect x="517.50" y="581.56" width="15.20" height="15.21" fill="#2ab07f"/><rect x="531.70" y="581.56" width="15.35" height="15.21" fill="#44bf70"/><rect x="546.05" y="581.56" width="15.35" height="15.21" fill="#52c569"/><rect x="560.40" y="581.56" width="15.35" height="15.21" fill="#70cf57"/><rect x="574.75" y="581.56" width="15.35" height="15.21" fill="#95d840"/><rect x="589.10" y="581.56" width="15.35" height="15.21" fill="#cde11d"/><rect x="603.45" y="581.56" width="56.05" height="15.21" fill="#fde725"/><rect x="517.50" y="595.77" width="15.20" height="15.21" fill="#35b779"/><rect x="531.70" y="595.77" width="15.35" height="15.21" fill="#44bf70"/><rect x="546.05" y="595.77" width="15.35" height="15.21" fill="#52c569"/><rect x="560.40" y="595.77" width="15.35" height="15.21" fill="#70cf57"/><rect x="574.75" y="595.77" width="15.35" height="15.21" fill="#95d840"/><rect x="589.10" y="595.77" width="15.35" height="15.21" fill="#cde11d"/><rect x="603.45" y="595.77" width="56.05" height="15.21" fill="#fde725"/><rect x="517.50" y="609.98" width="15.20" height="15.21" fill="#32b67a"/><rect x="531.70" y="609.98" width="15.35" height="15.21" fill="#44bf70"/><rect x="546.05" y="609.98" width="15.35" height="15.21" fill="#52c569"/><rect x="560.40" y="609.98" width="15.35" height="15.21" fill="#70cf57"/><rect x="574.75" y="609.98" width="15.35" height="15.21" fill="#95d840"/><rect x="589.10" y="609.98" width="15.35" height="15.21" fill="#cde11d"/><rect x="603.45" y="609.98" width="56.05" height="15.21" fill="#fde725"/><rect x="517.50" y="624.19" width="15.20" height="14.01" fill="#3d4e8a"/><rect x="531.70" y="624.19" width="15.35" height="14.01" fill="#44bf70"/><rect x="546.05" y="624.19" width="15.35" height="14.01" fill="#52c569"/><rect x="560.40" y="624.19" width="15.35" height="14.01" fill="#70cf57"/><rect x="574.75" y="624.19" width="15.35" height="14.01" fill="#95d840"/><rect x="589.10" y="624.19" width="15.35" height="14.01" fill="#cde11d"/><rect x="603.45" y="624.19" width="56.05" height="14.01" fill="#fde725"/><rect x="517.50" y="496.10" width="142.00" height="142.10" fill="none" stroke="#161616" stroke-width="1"/></g>
<text x="517.70" y="488.95" font-size="26.67"><tspan class="i">c</tspan>.3</text>
<line x1="517.50" x2="517.50" y1="638.20" y2="642.40" stroke="#161616" stroke-width="1"/><text x="517.30" y="666.2" font-size="26.67" text-anchor="middle">0</text><line x1="588.50" x2="588.50" y1="638.20" y2="642.40" stroke="#161616" stroke-width="1"/><text x="588.30" y="666.2" font-size="26.67" text-anchor="middle">50</text><line x1="659.50" x2="659.50" y1="638.20" y2="642.40" stroke="#161616" stroke-width="1"/><text x="659.30" y="666.2" font-size="26.67" text-anchor="middle">100</text><text x="576.00" y="689" font-size="26.67"><tspan class="i" font-size="24.2">z</tspan><tspan class="i" font-size="19.6" dx="-0.4" dy="9.1">O</tspan></text>
<line x1="34.05" x2="34.05" y1="496.50" y2="638.00" stroke="#2a2a2a" stroke-width="1.5"/><text transform="translate(22,598.15) rotate(-90)" font-size="26.67"><tspan class="i">k</tspan><tspan dx="-2.7"> =</tspan><tspan dx="-0.5"> 50</tspan></text><text transform="translate(56.4,578.05) rotate(-90)" font-size="26.67"><tspan class="i" font-size="24.2">z</tspan><tspan font-size="18.4" dx="-1.4" dy="8.3">A</tspan></text>
</svg>
</body></html>
